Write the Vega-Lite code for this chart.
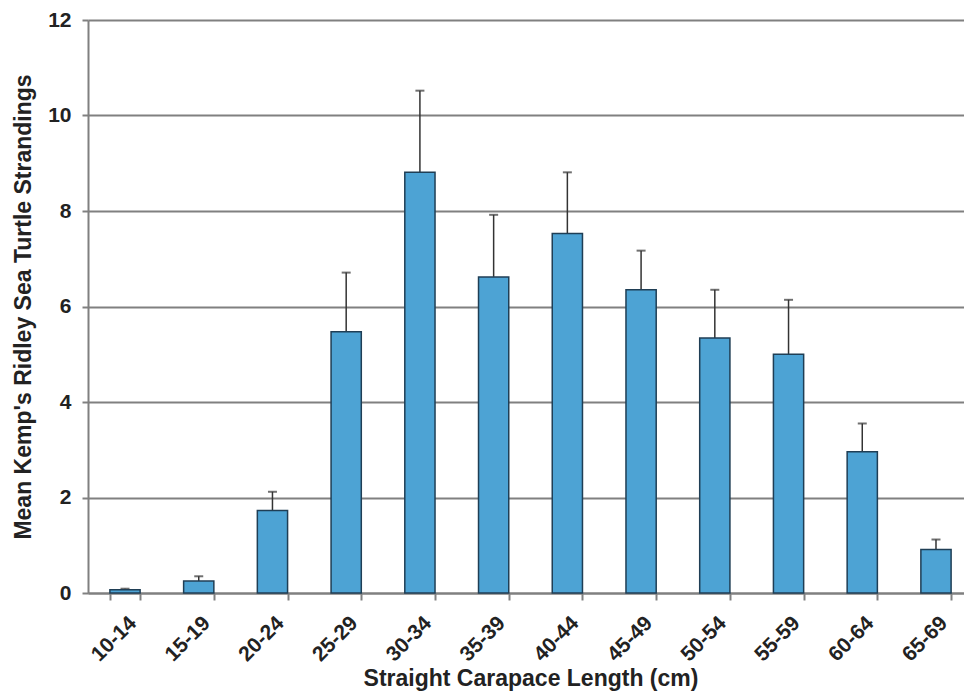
{
  "$schema": "https://vega.github.io/schema/vega-lite/v6.json",
  "width": 876,
  "height": 573,
  "autosize": {"type": "none"},
  "padding": {"left": 88, "top": 20, "right": 0, "bottom": 98},
  "background": "white",
  "config": {
    "view": {"stroke": null},
    "font": "Liberation Sans",
    "axis": {
      "labelFont": "Liberation Sans",
      "titleFont": "Liberation Sans",
      "labelFontWeight": "bold",
      "titleFontWeight": "bold",
      "labelColor": "#222222",
      "titleColor": "#222222",
      "labelFontSize": 21,
      "titleFontSize": 23,
      "domainColor": "#808080",
      "domainWidth": 2,
      "tickColor": "#808080",
      "tickWidth": 2,
      "tickSize": 7,
      "gridColor": "#808080",
      "gridWidth": 2,
      "gridOpacity": 1
    }
  },
  "data": {
    "values": [
      {"size": "10-14", "mean": 0.07, "upper": 0.09},
      {"size": "15-19", "mean": 0.25, "upper": 0.35},
      {"size": "20-24", "mean": 1.73, "upper": 2.12},
      {"size": "25-29", "mean": 5.47, "upper": 6.71},
      {"size": "30-34", "mean": 8.81, "upper": 10.52},
      {"size": "35-39", "mean": 6.62, "upper": 7.92},
      {"size": "40-44", "mean": 7.53, "upper": 8.81},
      {"size": "45-49", "mean": 6.35, "upper": 7.17},
      {"size": "50-54", "mean": 5.34, "upper": 6.35},
      {"size": "55-59", "mean": 5.0, "upper": 6.14},
      {"size": "60-64", "mean": 2.96, "upper": 3.55},
      {"size": "65-69", "mean": 0.91, "upper": 1.12}
    ]
  },
  "encoding": {
    "x": {
      "field": "size",
      "type": "nominal",
      "sort": null,
      "scale": {"paddingInner": 0.59, "paddingOuter": 0.297, "range": [0, 885]},
      "axis": {
        "title": "Straight Carapace Length (cm)",
        "labelAngle": -45,
        "labelFontSize": 21,
        "labelPadding": 12,
        "tickBand": "extent",
        "titlePadding": 3,
        "grid": false
      }
    }
  },
  "layer": [
    {
      "mark": {"type": "rule", "color": "#333333", "strokeWidth": 1.5},
      "encoding": {
        "y": {"field": "mean", "type": "quantitative"},
        "y2": {"field": "upper"}
      }
    },
    {
      "mark": {"type": "tick", "color": "#333333", "thickness": 2, "size": 9},
      "encoding": {
        "y": {"field": "upper", "type": "quantitative"}
      }
    },
    {
      "mark": {"type": "bar", "fill": "#4da3d4", "stroke": "#1f3e55", "strokeWidth": 1.5},
      "encoding": {
        "y": {
          "field": "mean",
          "type": "quantitative",
          "scale": {"domain": [0, 12]},
          "axis": {
            "title": "Mean Kemp's Ridley Sea Turtle Strandings",
            "values": [0, 2, 4, 6, 8, 10, 12],
            "tickSize": 6,
            "labelPadding": 11,
            "titlePadding": 12
          }
        }
      }
    }
  ]
}
